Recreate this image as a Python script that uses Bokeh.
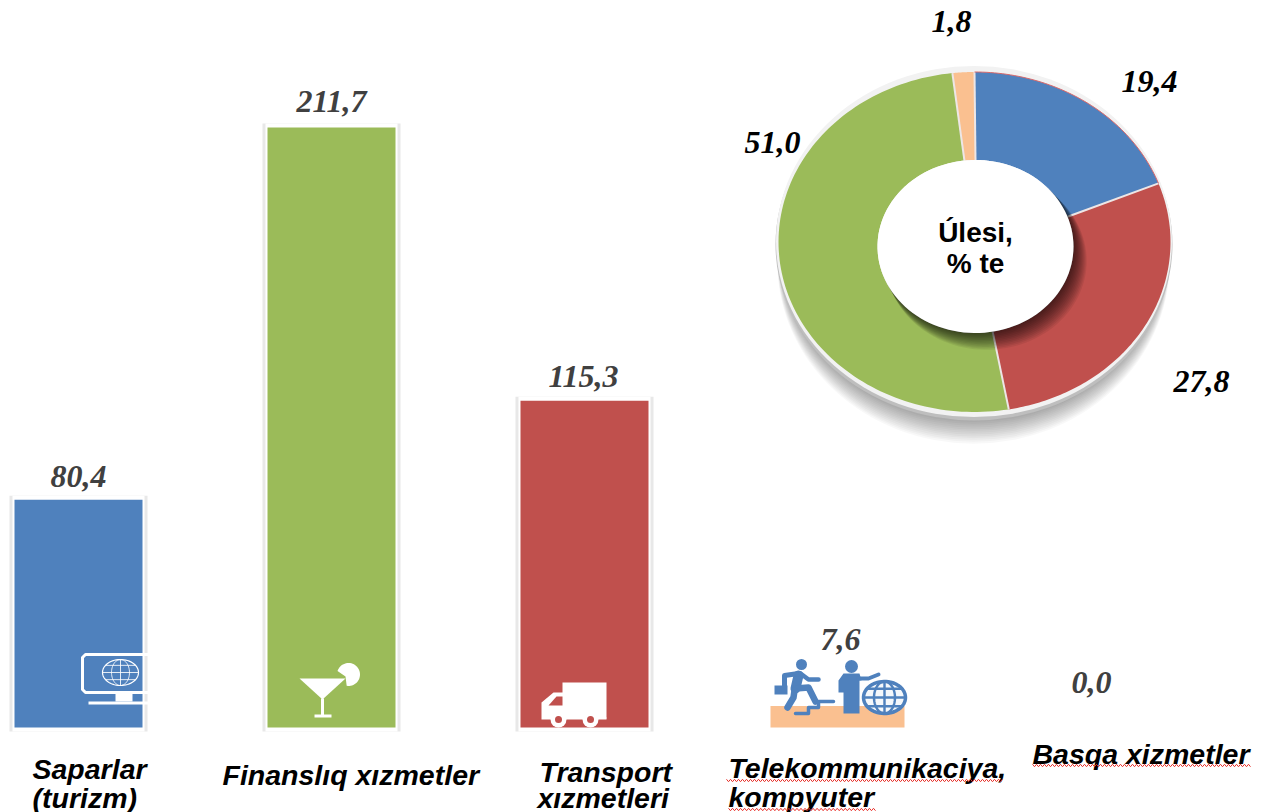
import numpy as np
from bokeh.plotting import figure
from bokeh.models import Range1d
from bokeh.core.properties import value
from bokeh.embed import file_html
from bokeh.resources import INLINE

# ---- data
categories = ["Saparlar (turizm)", "Finanslıq xızmetler", "Transport xızmetleri",
              "Telekommunikaciya, kompyuter", "Basqa xizmetler"]
bar_values = [80.4, 211.7, 115.3, 7.6, 0.0]
bar_colors = ["#4F81BD", "#9BBB59", "#C0504D", "#FAC090", "#8064A2"]
share_values = [19.4, 27.8, 51.0, 1.8]
share_colors = ["#4F81BD", "#C0504D", "#9BBB59", "#FAC090"]
center_lines = ["Úlesi,", "% te"]

W, H = 1266, 812
PLOT_BASE, PX_PER_UNIT = 727, 2.834
CAT0, CAT_STEP = 78, 253

p = figure(width=W, height=H, toolbar_location=None, output_backend="svg",
           min_border=0, outline_line_color=None,
           x_range=Range1d(-CAT0 / CAT_STEP, (W - CAT0) / CAT_STEP),
           y_range=Range1d((PLOT_BASE - H) / PX_PER_UNIT, PLOT_BASE / PX_PER_UNIT))
p.axis.visible = False
p.grid.visible = False
p.background_fill_color = "white"
p.border_fill_color = "white"
# a second coordinate system: reference-picture pixels, for annotations
p.extra_x_ranges["px"] = Range1d(0, W)
p.extra_y_ranges["py"] = Range1d(H, 0)
PX = dict(x_range_name="px", y_range_name="py")

# ---- bars
shown = [0, 1, 2]
p.vbar(x=shown, bottom=-1.4, top=[bar_values[i] + 1.4 for i in shown], width=138 / CAT_STEP,
       fill_color="#E8E8E8", line_color=None)
p.vbar(x=shown, bottom=-1.4, top=[bar_values[i] + 1.4 for i in shown], width=132 / CAT_STEP,
       fill_color="white", line_color=None)
p.vbar(x=shown, bottom=0, top=[bar_values[i] for i in shown], width=128 / CAT_STEP,
       fill_color=[bar_colors[i] for i in shown], line_color=None)
p.vbar(x=[3], bottom=0, top=[bar_values[3]], width=134 / CAT_STEP,
       fill_color=bar_colors[3], line_color=None)


def text(x, y, t, font, size, color="black", align="center", style="bold italic"):
    p.text(x=[x], y=[y], text=[t], text_align=align, text_baseline="middle",
           text_font=value(font), text_font_size=f"{size}px", text_font_style=style,
           text_color=color, **PX)


def fmt(v):
    return f"{v:.1f}".replace(".", ",")


SERIF, SANS = "Liberation Serif", "Liberation Sans"
for v, x, y in zip(bar_values, [78, 331, 583, 840, 1091], [476, 101, 376, 639, 682]):
    text(x, y, fmt(v), SERIF, 32, "#404040")

# ---- category labels
LS = 28.5
text(32, 768, "Saparlar", SANS, LS, align="left")
text(32, 797, "(turizm)", SANS, LS, align="left")
text(222, 774, "Finanslıq xızmetler", SANS, LS, align="left")
text(539, 771, "Transport", SANS, LS, align="left")
text(537, 797, "xızmetleri", SANS, LS, align="left")
text(728, 767, "Telekommunikaciya,", SANS, LS, align="left")
text(728, 796, "kompyuter", SANS, LS, align="left")
text(1032, 753, "Basqa xizmetler", SANS, LS, align="left")


def squiggle(x0, x1, y):
    n = int((x1 - x0) / 2)
    sx = np.linspace(x0, x1, n + 1)
    sy = y + np.where(np.arange(n + 1) % 2, 1.2, -1.2)
    p.line(sx, sy, line_color="#E8302A", line_width=1, **PX)


squiggle(726, 1002, 780)
squiggle(728, 875, 809)
squiggle(1032, 1250, 765)

# ---- donut (elliptical, perspective look)
CX, CY, RX, RY = 974, 241.5, 196, 170
HX, HY, HRX, HRY = 975, 246, 98, 86.5

# drop shadow and rim
for k in range(14, 0, -1):
    p.ellipse(x=[973], y=[246 + k * 1.2], width=[2 * 194 + k * 0.3], height=[2 * 172 + k * 1.2],
              fill_color="black", fill_alpha=0.028, line_color=None, **PX)
p.ellipse(x=[973.5], y=[244], width=[397], height=[352], fill_color="#BEBEBE", line_color=None, **PX)
p.ellipse(x=[973.5], y=[241], width=[396], height=[351], fill_color="#F2F2F2", line_color=None, **PX)

edges = np.concatenate([[0], np.cumsum(share_values)]) / sum(share_values) * 2 * np.pi
for a0, a1, c in zip(edges[:-1], edges[1:], share_colors):
    t = np.linspace(a0, a1, 120)
    px = np.concatenate([CX + RX * np.sin(t), HX + HRX * np.sin(t[::-1])])
    py = np.concatenate([CY - RY * np.cos(t), HY - HRY * np.cos(t[::-1])])
    p.patch(px, py, fill_color=c, line_color=None, **PX)
for a in edges[:-1]:
    p.line([HX + HRX * np.sin(a), CX + RX * np.sin(a)], [HY - HRY * np.cos(a), CY - RY * np.cos(a)],
           line_color="#EDE6E6", line_width=2, **PX)
t = np.linspace(edges[0], edges[1], 60)
p.line(CX + RX * np.sin(t), CY - RY * np.cos(t), line_color="#D9686A", line_width=1, **PX)

# hole shadow + hole
th = np.linspace(0, 2 * np.pi, 120)
for k in range(12, 0, -1):
    p.patch(HX + 0.9 * k + (HRX + 0.2 * k) * np.cos(th), HY + 1.2 * k + (HRY + 0.2 * k) * np.sin(th),
            fill_color="black", fill_alpha=0.07, line_color=None, **PX)
p.patch(HX + HRX * np.cos(th), HY + HRY * np.sin(th), fill_color="white", line_color=None, **PX)
text(975, 232, center_lines[0], SANS, 28, style="bold")
text(975, 263, center_lines[1], SANS, 28, style="bold")

for v, x, y in zip(share_values, [1149, 1201, 772, 951], [81, 381, 142, 21]):
    text(x, y, fmt(v), SERIF, 32)


# ---- pictograms
def rect(x0, x1, y0, y1, c="white"):
    p.quad(left=[x0], right=[x1], top=[y0], bottom=[y1], fill_color=c, line_color=None, **PX)


def poly(x, y, c="white"):
    p.patch(x, y, fill_color=c, line_color=None, **PX)


def stroke(x, y, c="white", w=2.0):
    p.line(x, y, line_color=c, line_width=w, line_cap="round", line_join="round", **PX)


def disc(x, y, r, c):
    p.circle(x=[x], y=[y], radius=[r], fill_color=c, line_color=None, **PX)


def globe(cx, cy, rx, ry, c, w, fill=None):
    th = np.linspace(0, 2 * np.pi, 60)
    if fill:
        poly(cx + rx * np.cos(th), cy + ry * np.sin(th), fill)
    stroke(cx + rx * np.cos(th), cy + ry * np.sin(th), c, w)
    stroke(cx + .5 * rx * np.cos(th), cy + ry * np.sin(th), c, w * .7)
    stroke([cx, cx], [cy - ry, cy + ry], c, w * .7)
    stroke([cx - rx, cx + rx], [cy, cy], c, w * .7)
    for f in (-.55, .55):
        hw = rx * np.sqrt(1 - f * f)
        stroke([cx - hw, cx + hw], [cy + f * ry, cy + f * ry], c, w * .7)


# monitor
stroke([150, 85, 82, 82, 85, 150], [654, 654, 657, 689, 692, 692], "white", 3)
rect(115, 132, 693, 701)
rect(88, 150, 701, 704)
globe(120, 672, 18, 13, "white", 1.2)
# martini
poly([299, 345, 322], [678, 678, 699])
rect(320.5, 323.5, 698, 715)
rect(314, 331, 714, 717)
th = np.linspace(-2.84, 1.73, 40)
poly(np.concatenate([[345], 348 + 11.5 * np.cos(th)]), np.concatenate([[676], 674 + 11.5 * np.sin(th)]))
# truck
poly([562, 606, 606, 562], [682, 682, 718, 718])
poly([563, 563, 541, 541, 553], [692, 719, 719, 702, 692])
poly([548, 562, 562, 556], [705, 705, 696, 696], "#C0504D")
poly([563, 606, 606, 563], [717, 717, 719, 719])
for wx in (558, 590):
    disc(wx, 719, 8, "white")
    disc(wx, 719, 3.5, "#C0504D")
# people
B = "#4F81BD"
disc(801, 664, 5.5, B)
stroke([798, 795], [675, 688], B, 10)
stroke([798, 784, 784], [673, 675, 685], B, 5)
rect(774, 787, 685, 694, B)
stroke([800, 808, 818], [673, 679, 679], B, 4.5)
stroke([795, 808, 815], [688, 687, 701], B, 6.5)
stroke([794, 793, 787], [690, 697, 707], B, 6.5)
stroke([795, 808, 808, 818, 818, 833], [713, 713, 707, 707, 701, 701], B, 3.5)
disc(851, 666, 6.5, B)
poly([838, 843, 859, 861, 859, 859, 843, 843, 838], [680, 673, 673, 680, 680, 713, 713, 692, 692], B)
stroke([858, 868, 878], [678, 678, 674], B, 4)
globe(884, 697, 21, 16, B, 3.5, fill="#F5F8FB")

open("out.html", "w").write(file_html(p, INLINE))
